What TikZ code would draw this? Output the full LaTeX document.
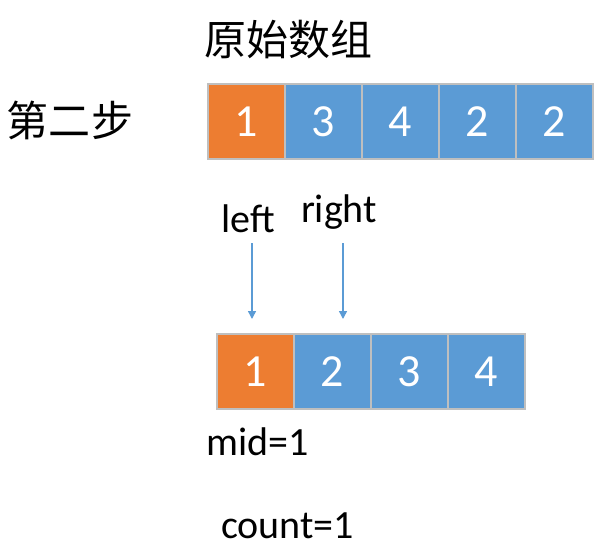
\documentclass[tikz,border=0pt]{standalone}
\usepackage{fontspec}
\setmainfont{Carlito}
\newfontfamily\cjk{Noto Sans CJK SC}
\usetikzlibrary{arrows.meta,positioning}
\definecolor{cellorange}{HTML}{ED7D31}
\definecolor{cellblue}{HTML}{5B9BD5}
\definecolor{cellgray}{HTML}{BFBFBF}

\begin{document}
\begin{tikzpicture}[x=1bp,y=-1bp]
\tikzstyle{cell} = [
	shape=rectangle,
	draw=cellgray, %light border round each cell
	fill=cellblue,
	line width=2bp,
	minimum width=77bp,
	minimum height=75bp,
	inner sep=0pt,
	outer sep=0pt,
	text=white,
	font=\fontsize{46bp}{46bp}\selectfont
];
\tikzstyle{hot} = [cell, fill=cellorange];
\tikzstyle{label} = [inner sep=0pt, font=\fontsize{40bp}{40bp}\selectfont];
\tikzstyle{title} = [inner sep=0pt, font=\cjk\fontsize{42bp}{42bp}\selectfont];
\tikzstyle{pointer} = [-{Triangle[length=8bp,width=8bp]}, line width=1.5bp, color=cellblue];

\useasboundingbox (0,0) rectangle (606,556);

%headings
\node[title](head) at (288,40) {原始数组};
\node[title](step) at (70,120) {第二步};

%original array
\begin{scope}
	\node[hot](a1) at (246.5,121.5) {1};
	\node[cell](a2) [right=0pt of a1] {3};
	\node[cell](a3) [right=0pt of a2] {4};
	\node[cell](a4) [right=0pt of a3] {2};
	\node[cell](a5) [right=0pt of a4] {2};
\end{scope}

%sorted array
\begin{scope}
	\node[hot](b1) at (255.5,371.5) {1};
	\node[cell](b2) [right=0pt of b1] {2};
	\node[cell](b3) [right=0pt of b2] {3};
	\node[cell](b4) [right=0pt of b3] {4};
\end{scope}

%pointers
\node[label, anchor=base](lft) at (248,233) {left};
\node[label, anchor=base](rgt) at (339,223) {right};
\coordinate (lftTail) at (252,243);
\coordinate (lftTip) at (252,319);
\coordinate (rgtTail) at (343,243);
\coordinate (rgtTip) at (343,319);

\draw[pointer] (lftTail) -- (lftTip);
\draw[pointer] (rgtTail) -- (rgtTip);

%values
\node[label, anchor=base west](mid) at (206,455) {mid=1};
\node[label, anchor=base west](cnt) at (221,538) {count=1};

\end{tikzpicture}
\end{document}
